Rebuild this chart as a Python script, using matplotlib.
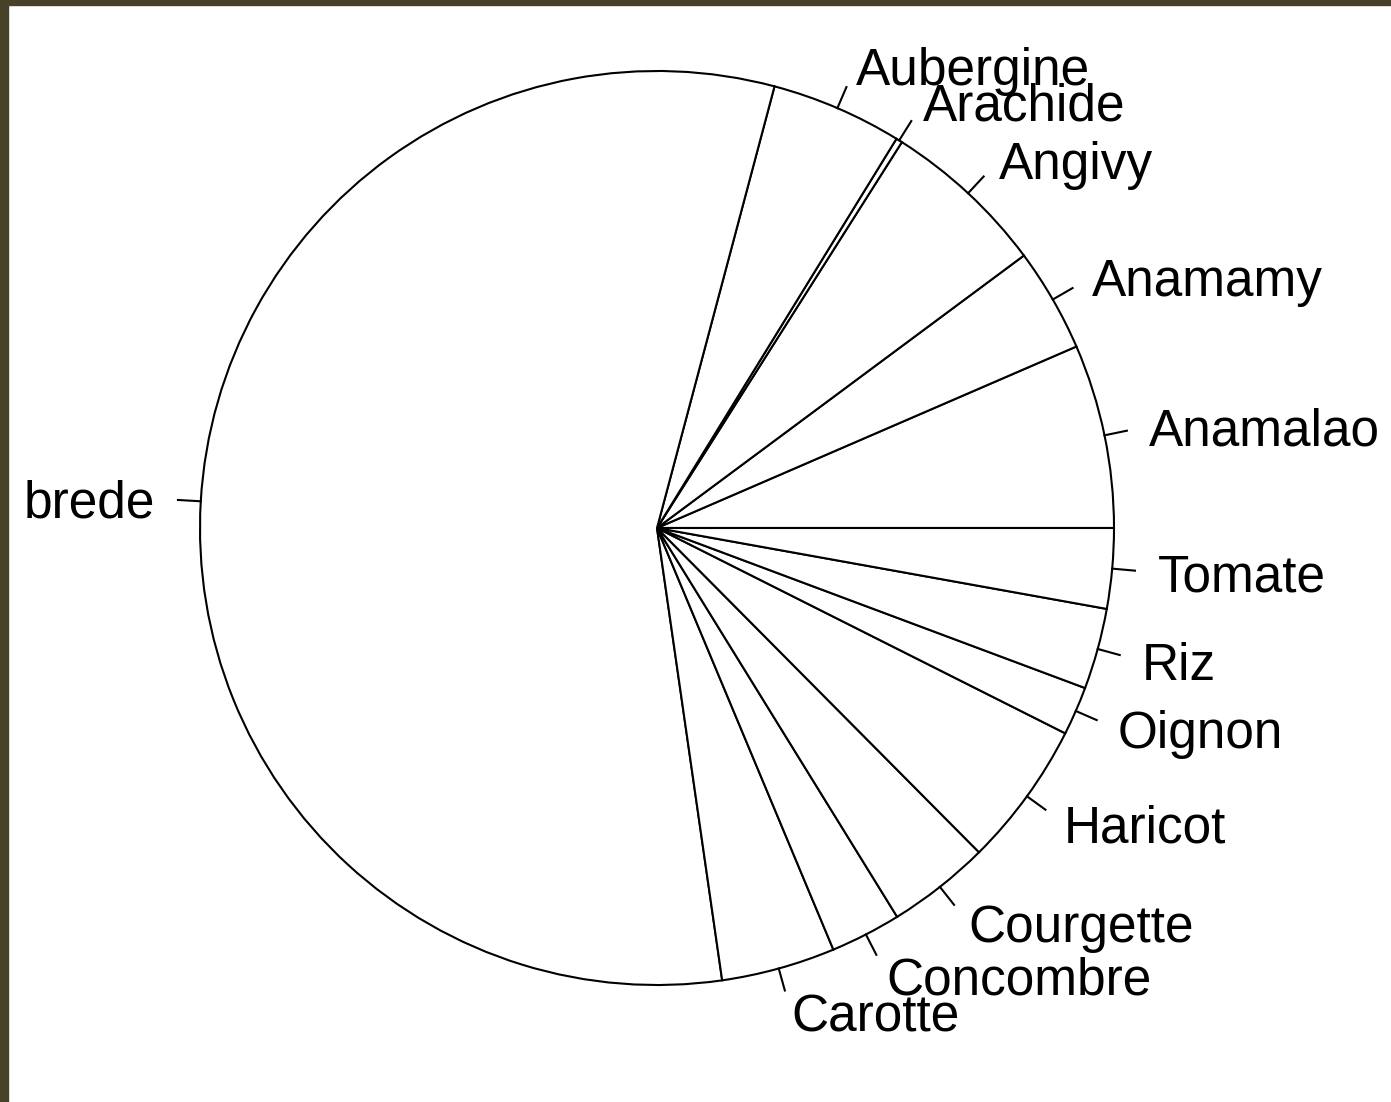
import numpy as np
import matplotlib
matplotlib.use("Agg")
import matplotlib.pyplot as plt
from matplotlib.patches import Rectangle

# slice sizes (in degrees of the circle)
labels = ["Anamalao", "Anamamy", "Angivy", "Arachide", "Aubergine", "brede",
          "Carotte", "Concombre", "Courgette", "Haricot", "Oignon", "Riz", "Tomate"]
values = [23.4, 13.2, 21.0, 0.8, 16.7, 203.1, 14.5, 9.0, 13.1, 18.5, 6.2, 10.3, 10.2]

W, H = 1391, 1102
fig = plt.figure(figsize=(W / 100, H / 100), dpi=100, facecolor="white")
ax = fig.add_axes([0, 0, 1, 1])

# R-style pie: starts at 3 o'clock, goes counterclockwise, no fill
cx, cy, r = 657, H - 528, 457
wedges, texts = ax.pie(values, labels=labels, startangle=0, counterclock=True,
                       center=(cx, cy), radius=r, labeldistance=1.1,
                       colors=["white"] * len(values),
                       wedgeprops=dict(edgecolor="black", linewidth=1.5),
                       textprops=dict(family="Liberation Sans", fontsize=37,
                                      color="black"))

# little tick lines from the rim to the labels, labels aligned like R does
for w, t in zip(wedges, texts):
    mid = np.deg2rad((w.theta1 + w.theta2) / 2)
    ax.plot([cx + r * np.cos(mid), cx + 1.05 * r * np.cos(mid)],
            [cy + r * np.sin(mid), cy + 1.05 * r * np.sin(mid)],
            color="black", linewidth=1.5)
    t.set_horizontalalignment("left" if np.cos(mid) > 0 else "right")
    t.set_verticalalignment("center_baseline")

ax.set_xlim(0, W)
ax.set_ylim(0, H)
ax.set_aspect("auto")
ax.axis("off")

# dark screenshot border on top and left
fig.patches.append(Rectangle((0, 1 - 5 / H), 1, 5 / H, transform=fig.transFigure,
                             color="#48412a", zorder=10))
fig.patches.append(Rectangle((0, 0), 8 / W, 1, transform=fig.transFigure,
                             color="#48412a", zorder=10))

fig.savefig("out.png", dpi=100)
